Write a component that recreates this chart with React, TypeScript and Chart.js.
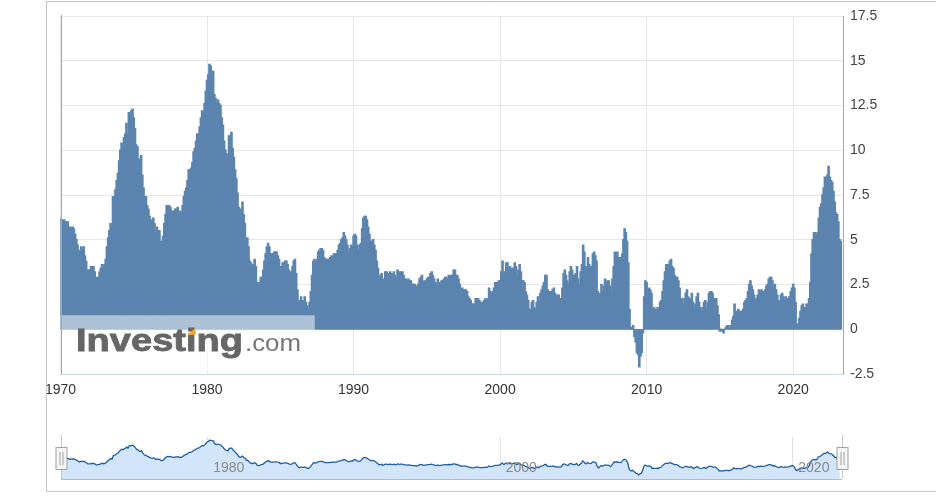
import React, { useEffect, useRef } from "react";
import { Chart, registerables } from "chart.js";

Chart.register(...registerables);
Chart.defaults.font.family = "'Liberation Sans', Arial, sans-serif";

// US CPI, year-over-year % change, monthly, Jan 1970 – Apr 2023
const startYear = 1970;

const cpi1970s = [
  6.2, 6.1, 5.8, 6.1, 6.0, 6.0, 6.0, 5.4, 5.7, 5.6, 5.7, 5.6,
  5.3, 5.0, 4.7, 4.2, 4.4, 4.6, 4.4, 4.6, 4.1, 3.8, 3.3, 3.3,
  3.3, 3.5, 3.5, 3.5, 3.2, 2.7, 2.9, 2.9, 3.2, 3.4, 3.6, 3.4,
  3.6, 3.9, 4.6, 5.1, 5.5, 5.9, 5.7, 7.4, 7.4, 7.8, 8.3, 8.7,
  9.4, 10.0, 10.4, 10.1, 10.7, 10.9, 11.5, 10.9, 12.1, 12.0, 12.2, 12.3,
  11.8, 11.2, 10.3, 10.2, 9.5, 9.3, 9.7, 8.6, 7.9, 7.4, 7.4, 6.9,
  6.7, 6.3, 6.1, 6.0, 6.2, 5.9, 5.4, 5.7, 5.5, 5.5, 4.9, 4.9,
  5.2, 5.9, 6.4, 6.9, 6.7, 6.9, 6.8, 6.6, 6.6, 6.4, 6.7, 6.7,
  6.8, 6.4, 6.6, 6.5, 6.9, 7.4, 7.7, 7.9, 8.3, 8.9, 8.9, 9.0,
  9.3, 9.9, 10.1, 10.5, 10.9, 10.9, 11.3, 11.8, 12.2, 12.1, 12.6, 13.3,
];

const cpi1980s = [
  13.9, 14.2, 14.8, 14.7, 14.4, 14.4, 13.1, 12.9, 12.6, 12.8, 12.6, 12.5,
  11.8, 11.4, 10.5, 10.0, 9.8, 9.6, 10.8, 10.8, 11.0, 10.1, 9.6, 8.9,
  8.4, 7.6, 6.8, 6.5, 6.7, 7.1, 6.4, 5.9, 5.0, 5.1, 4.6, 3.8,
  3.7, 3.5, 3.6, 3.9, 3.5, 2.6, 2.5, 2.6, 2.9, 2.9, 3.3, 3.8,
  4.2, 4.6, 4.8, 4.6, 4.2, 4.2, 4.2, 4.3, 4.3, 4.3, 4.1, 3.9,
  3.5, 3.5, 3.7, 3.7, 3.8, 3.8, 3.6, 3.3, 3.1, 3.2, 3.5, 3.8,
  3.9, 3.1, 2.2, 1.6, 1.5, 1.8, 1.6, 1.6, 1.8, 1.5, 1.3, 1.1,
  1.5, 2.1, 3.0, 3.8, 3.9, 3.7, 3.9, 4.3, 4.4, 4.5, 4.5, 4.4,
  4.0, 3.9, 3.9, 3.9, 3.9, 4.0, 4.1, 4.0, 4.2, 4.2, 4.2, 4.4,
  4.7, 4.8, 5.0, 5.1, 5.4, 5.2, 5.0, 4.7, 4.3, 4.5, 4.7, 4.6,
];

const cpi1990s = [
  5.2, 5.3, 5.2, 4.7, 4.4, 4.7, 4.8, 5.6, 6.2, 6.3, 6.3, 6.1,
  5.7, 5.3, 4.9, 4.9, 5.0, 4.7, 4.4, 3.8, 3.4, 2.9, 3.0, 3.1,
  2.6, 2.8, 3.2, 3.2, 3.0, 3.1, 3.2, 3.1, 3.0, 3.2, 3.0, 2.9,
  3.3, 3.2, 3.1, 3.2, 3.2, 3.0, 2.8, 2.8, 2.7, 2.8, 2.7, 2.7,
  2.5, 2.5, 2.5, 2.4, 2.3, 2.5, 2.8, 2.9, 3.0, 2.6, 2.7, 2.7,
  2.8, 2.9, 2.9, 3.1, 3.2, 3.0, 2.8, 2.6, 2.5, 2.8, 2.6, 2.5,
  2.7, 2.7, 2.8, 2.9, 2.9, 2.8, 3.0, 2.9, 3.0, 3.0, 3.3, 3.3,
  3.0, 3.0, 2.8, 2.5, 2.2, 2.3, 2.2, 2.2, 2.2, 2.1, 1.8, 1.7,
  1.6, 1.4, 1.4, 1.4, 1.7, 1.7, 1.7, 1.6, 1.5, 1.5, 1.5, 1.6,
  1.7, 1.6, 1.7, 2.3, 2.1, 2.0, 2.1, 2.3, 2.6, 2.6, 2.6, 2.7,
];

const cpi2000s = [
  2.7, 3.2, 3.8, 3.1, 3.2, 3.7, 3.7, 3.4, 3.5, 3.4, 3.4, 3.4,
  3.7, 3.5, 2.9, 3.3, 3.6, 3.2, 2.7, 2.7, 2.6, 2.1, 1.9, 1.6,
  1.1, 1.1, 1.5, 1.6, 1.2, 1.1, 1.5, 1.8, 1.5, 2.0, 2.2, 2.4,
  2.6, 3.0, 3.0, 2.2, 2.1, 2.1, 2.1, 2.2, 2.3, 2.0, 1.8, 1.9,
  1.9, 1.7, 1.7, 2.3, 3.1, 3.3, 3.0, 2.7, 2.5, 3.2, 3.5, 3.3,
  3.0, 3.0, 3.1, 3.5, 2.8, 2.5, 3.2, 3.6, 4.7, 4.3, 3.5, 3.4,
  4.0, 3.6, 3.4, 3.5, 4.2, 4.3, 4.1, 3.8, 2.1, 1.3, 2.0, 2.5,
  2.1, 2.4, 2.8, 2.6, 2.7, 2.7, 2.4, 2.0, 2.8, 3.5, 4.3, 4.1,
  4.3, 4.0, 4.0, 3.9, 4.2, 5.0, 5.6, 5.4, 4.9, 3.7, 1.1, 0.1,
  0.0, 0.2, -0.4, -0.7, -1.3, -1.4, -2.1, -1.5, -1.3, -0.2, 1.8, 2.7,
];

const cpi2010s = [
  2.6, 2.1, 2.3, 2.2, 2.0, 1.1, 1.2, 1.1, 1.1, 1.2, 1.1, 1.5,
  1.6, 2.1, 2.7, 3.2, 3.6, 3.6, 3.6, 3.8, 3.9, 3.5, 3.4, 3.0,
  2.9, 2.9, 2.7, 2.3, 1.7, 1.7, 1.4, 1.7, 2.0, 2.2, 1.8, 1.7,
  1.6, 2.0, 1.5, 1.1, 1.4, 1.8, 2.0, 1.5, 1.2, 1.0, 1.2, 1.5,
  1.6, 1.1, 1.5, 2.0, 2.1, 2.1, 2.0, 1.7, 1.7, 1.7, 1.3, 0.8,
  -0.1, 0.0, -0.1, -0.2, 0.0, 0.1, 0.2, 0.2, 0.0, 0.2, 0.5, 0.7,
  1.4, 1.0, 0.9, 1.1, 1.0, 1.0, 0.8, 1.1, 1.5, 1.6, 1.7, 2.1,
  2.5, 2.7, 2.4, 2.2, 1.9, 1.6, 1.7, 1.9, 2.2, 2.0, 2.2, 2.1,
  2.1, 2.2, 2.4, 2.5, 2.8, 2.9, 2.9, 2.7, 2.3, 2.5, 2.2, 1.9,
  1.6, 1.5, 1.9, 2.0, 1.8, 1.6, 1.8, 1.7, 1.7, 1.8, 2.1, 2.3,
];

const cpi2020s = [
  2.5, 2.3, 1.5, 0.3, 0.1, 0.6, 1.0, 1.3, 1.4, 1.2, 1.2, 1.4,
  1.4, 1.7, 2.6, 4.2, 5.0, 5.4, 5.4, 5.3, 5.4, 6.2, 6.8, 7.0,
  7.5, 7.9, 8.5, 8.3, 8.6, 9.1, 8.5, 8.3, 8.2, 7.7, 7.1, 6.5,
  6.4, 6.0, 5.0, 4.9,
];

const xTickYears = [1970, 1980, 1990, 2000, 2010, 2020];
const yTickValues = [-2.5, 0, 2.5, 5, 7.5, 10, 12.5, 15, 17.5];
const navLabelYears = [1980, 2000, 2020];
const watermarkMain = "Investing";
const watermarkSuffix = ".com";

const values = [...cpi1970s, ...cpi1980s, ...cpi1990s, ...cpi2000s, ...cpi2010s, ...cpi2020s];
const points = values.map((v, i) => ({ x: startYear + i / 12, y: v }));

const X_MIN = 1970;
const X_MAX = 2023.4;
const W = 936;
const H = 496;
const NAV_TOP = 430;
const NAV_H = 66;

const mainPlugin = {
  id: "mainOverlay",
  afterDatasetsDraw(chart: any) {
    const ctx = chart.ctx as CanvasRenderingContext2D;
    const x = chart.scales.x;
    const y = chart.scales.y;
    const left = chart.chartArea.left;
    const y0 = y.getPixelForValue(0);
    ctx.save();
    // watermark translucent band
    ctx.fillStyle = "rgba(255,255,255,0.5)";
    ctx.fillRect(left, y0 - 14, x.getPixelForValue(1987.35) - left, 57);
    // Investing text
    ctx.fillStyle = "#666666";
    ctx.textBaseline = "alphabetic";
    ctx.font = "bold 31px 'Liberation Sans', Arial, sans-serif";
    const wMain = ctx.measureText(watermarkMain).width;
    ctx.save();
    ctx.translate(76, y0 + 22);
    ctx.scale(167 / wMain, 1.02);
    ctx.fillText(watermarkMain, 0, 0);
    ctx.lineWidth = 0.8;
    ctx.strokeStyle = "#666666";
    ctx.strokeText(watermarkMain, 0, 0);
    ctx.restore();
    ctx.fillStyle = "#777777";
    ctx.font = "23px 'Liberation Sans', Arial, sans-serif";
    const wSuf = ctx.measureText(watermarkSuffix).width;
    ctx.save();
    ctx.translate(245, y0 + 22);
    ctx.scale(56 / wSuf, 1);
    ctx.fillText(watermarkSuffix, 0, 0);
    ctx.restore();
    // orange accent on the i dot
    ctx.fillStyle = "#f5a623";
    ctx.beginPath();
    ctx.moveTo(188, y0 + 5);
    ctx.lineTo(195, y0 - 1);
    ctx.lineTo(196, y0 + 5);
    ctx.lineTo(189, y0 + 6);
    ctx.closePath();
    ctx.fill();
    ctx.restore();
  },
  afterDraw(chart: any) {
    const ctx = chart.ctx as CanvasRenderingContext2D;
    const a = chart.chartArea;
    ctx.save();
    ctx.strokeStyle = "#a8a8a8";
    ctx.lineWidth = 1;
    ctx.beginPath();
    ctx.moveTo(Math.round(a.left) + 0.5, a.top - 1);
    ctx.lineTo(Math.round(a.left) + 0.5, a.bottom);
    ctx.stroke();
    // outer frame
    ctx.strokeStyle = "#c4c4c4";
    ctx.beginPath();
    ctx.moveTo(W + 2, 1.5);
    ctx.lineTo(46.5, 1.5);
    ctx.lineTo(46.5, 491.5);
    ctx.lineTo(W + 2, 491.5);
    ctx.stroke();
    ctx.restore();
  },
};

const navPlugin = {
  id: "navOverlay",
  beforeDatasetsDraw(chart: any) {
    const ctx = chart.ctx as CanvasRenderingContext2D;
    const a = chart.chartArea;
    const x = chart.scales.x;
    ctx.save();
    ctx.strokeStyle = "#e3e3e3";
    ctx.lineWidth = 1;
    navLabelYears.forEach((yr) => {
      const px = Math.round(x.getPixelForValue(yr)) + 0.5;
      ctx.beginPath();
      ctx.moveTo(px, a.top);
      ctx.lineTo(px, a.bottom);
      ctx.stroke();
    });
    ctx.restore();
  },
  afterDatasetsDraw(chart: any) {
    const ctx = chart.ctx as CanvasRenderingContext2D;
    const a = chart.chartArea;
    const x = chart.scales.x;
    ctx.save();
    ctx.fillStyle = "#8a8a8a";
    ctx.font = "14px 'Liberation Sans', Arial, sans-serif";
    ctx.textBaseline = "middle";
    ctx.textAlign = "left";
    navLabelYears.forEach((yr) => {
      ctx.fillText(String(yr), x.getPixelForValue(yr) + 6, 38);
    });
    ctx.strokeStyle = "#bbbbbb";
    ctx.lineWidth = 1;
    ctx.beginPath();
    ctx.moveTo(a.left, Math.round(a.bottom) + 0.5);
    ctx.lineTo(a.right, Math.round(a.bottom) + 0.5);
    ctx.stroke();
    [a.left, a.right].forEach((hx) => {
      const cx = Math.round(hx) + 0.5;
      ctx.strokeStyle = "#c8c8c8";
      ctx.beginPath();
      ctx.moveTo(cx, 5);
      ctx.lineTo(cx, a.bottom);
      ctx.stroke();
      ctx.fillStyle = "#f4f4f4";
      ctx.strokeStyle = "#a0a0a0";
      ctx.fillRect(cx - 5.5, 17.5, 11, 22);
      ctx.strokeRect(cx - 5.5, 17.5, 11, 22);
      ctx.beginPath();
      ctx.moveTo(cx - 1.5, 22);
      ctx.lineTo(cx - 1.5, 35);
      ctx.moveTo(cx + 1.5, 22);
      ctx.lineTo(cx + 1.5, 35);
      ctx.stroke();
    });
    ctx.restore();
  },
};

export default function App() {
  const mainRef = useRef<HTMLCanvasElement | null>(null);
  const navRef = useRef<HTMLCanvasElement | null>(null);

  useEffect(() => {
    if (!mainRef.current || !navRef.current) return;
    const tickFont = { size: 14, family: "'Liberation Sans', Arial, sans-serif" };
    const main = new Chart(mainRef.current, {
      type: "bar",
      data: {
        datasets: [
          {
            data: points as any,
            backgroundColor: "#5b84af",
            borderWidth: 0,
            barPercentage: 1,
            categoryPercentage: 1,
            inflateAmount: 0.7,
          },
        ],
      },
      options: {
        responsive: false,
        animation: false,
        events: [],
        layout: { padding: { left: 60.5, top: 16, right: 0, bottom: 0 } },
        plugins: { legend: { display: false }, tooltip: { enabled: false } },
        scales: {
          x: {
            type: "linear",
            min: X_MIN,
            max: X_MAX,
            offset: false,
            afterBuildTicks: (s: any) => {
              s.ticks = xTickYears.map((v) => ({ value: v }));
            },
            afterFit: (s: any) => {
              s.height = H - 374;
            },
            grid: { color: "#e6e6e6", drawTicks: false, offset: false },
            border: { color: "#ccd6eb" },
            ticks: {
              padding: 8,
              color: "#333333",
              font: tickFont,
              maxRotation: 0,
              autoSkip: false,
              callback: (v: any) => String(v),
            },
          },
          y: {
            position: "right",
            min: -2.5,
            max: 17.5,
            afterBuildTicks: (s: any) => {
              s.ticks = yTickValues.map((v) => ({ value: v }));
            },
            afterFit: (s: any) => {
              s.width = W - 843;
            },
            grid: { color: "#e6e6e6", drawTicks: false },
            border: { color: "#a8a8a8" },
            ticks: {
              padding: 7,
              color: "#444444",
              font: tickFont,
              callback: (v: any) => String(v),
            },
          },
        },
      },
      plugins: [mainPlugin],
    } as any);

    const nav = new Chart(navRef.current, {
      type: "line",
      data: {
        datasets: [
          {
            data: points as any,
            borderColor: "#1f5fa6",
            borderWidth: 1.3,
            backgroundColor: "#d2e5fb",
            fill: "start",
            pointRadius: 0,
            tension: 0,
          },
        ],
      },
      options: {
        responsive: false,
        animation: false,
        events: [],
        layout: { padding: { left: 61, right: W - 842, top: 7, bottom: 17 } },
        plugins: { legend: { display: false }, tooltip: { enabled: false } },
        scales: {
          x: { type: "linear", display: false, min: X_MIN, max: X_MAX },
          y: { display: false, min: -4, max: 16.3 },
        },
      },
      plugins: [navPlugin],
    } as any);

    return () => {
      main.destroy();
      nav.destroy();
    };
  }, []);

  return (
    <div style={{ position: "fixed", left: 0, top: 0, width: W, height: H, background: "#fff" }}>
      <canvas ref={mainRef} width={W} height={H} style={{ position: "absolute", left: 0, top: 0 }} />
      <canvas
        ref={navRef}
        width={W}
        height={NAV_H}
        style={{ position: "absolute", left: 0, top: NAV_TOP }}
      />
    </div>
  );
}
